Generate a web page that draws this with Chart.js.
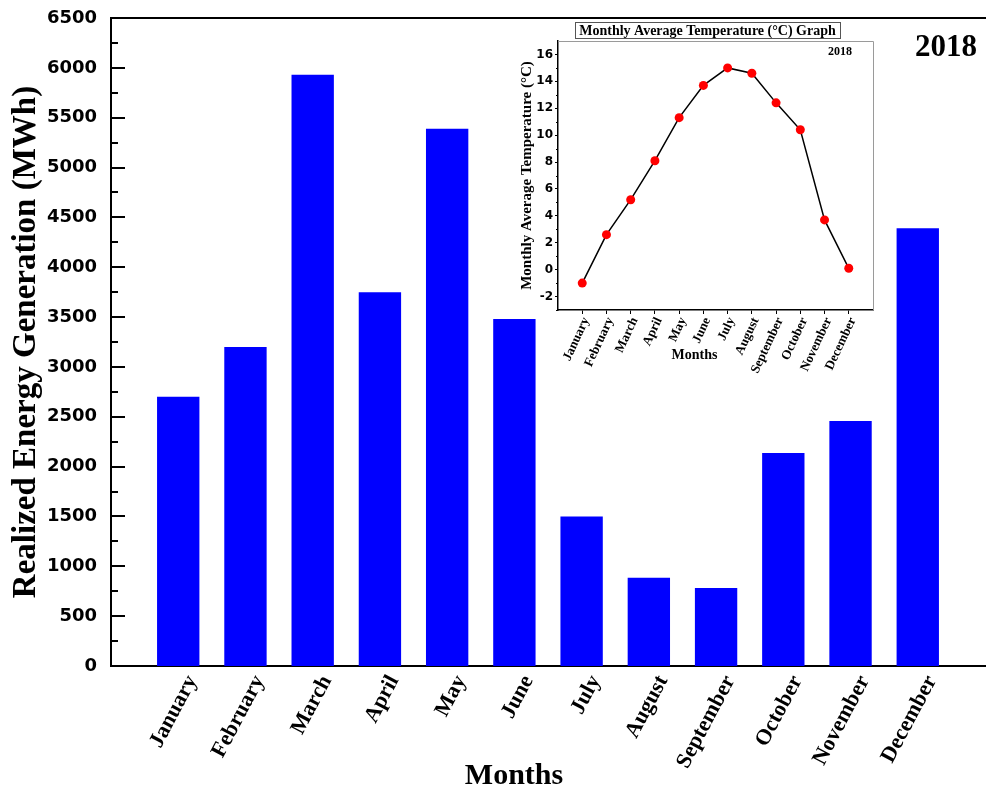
<!DOCTYPE html>
<html>
<head>
<meta charset="utf-8">
<script src="https://cdn.jsdelivr.net/npm/chart.js@4.4.0/dist/chart.umd.min.js"></script>
<style>
    html, body { margin: 0; padding: 0; background: #fff; }
    #wrap { position: relative; width: 986px; height: 794px; }
    #mainChart { position: absolute; left: 0; top: 0; }
    #insetChart { position: absolute; left: 505px; top: 15px; }
</style>
</head>
<body>
<div id="wrap">
    <canvas id="mainChart" width="986" height="794"></canvas>
    <canvas id="insetChart" width="380" height="380"></canvas>
</div>
<script>
// --- Data ---
const months = ['January', 'February', 'March', 'April', 'May', 'June',
    'July', 'August', 'September', 'October', 'November', 'December'];
const energyMWh = [2700, 3200, 5930, 3750, 5390, 3480, 1500, 885, 782, 2136, 2457, 4390];
const temperatureC = [-1.0, 2.6, 5.2, 8.1, 11.3, 13.7, 15.0, 14.6, 12.4, 10.4, 3.7, 0.1];
const energyTicks = [0, 500, 1000, 1500, 2000, 2500, 3000, 3500, 4000, 4500, 5000, 5500, 6000, 6500];
const tempTicks = [-2, 0, 2, 4, 6, 8, 10, 12, 14, 16];
const yearLabel = '2018';

const serifBold = (size) => ({ family: "'Liberation Serif', 'Times New Roman', serif", size: size, weight: 'bold', lineHeight: 1.2 });
const sansBold = (size) => ({ family: "'DejaVu Sans', Arial, sans-serif", size: size, weight: 'bold' });

// minor ticks sit halfway between the labelled ones
function midpoints(ticks) {
    const out = [];
    for (let i = 0; i < ticks.length - 1; i++) out.push((ticks[i] + ticks[i + 1]) / 2);
    return out;
}

// --- Main bar chart ---
const mainDecor = {
    id: 'mainDecor',
    afterDraw(chart) {
        const { ctx, chartArea: a, scales: { y } } = chart;
        ctx.save();
        ctx.strokeStyle = '#000';
        ctx.lineWidth = 2;
        ctx.beginPath();
        ctx.moveTo(a.left, a.top);
        ctx.lineTo(chart.width, a.top);
        ctx.stroke();

        // inward tick marks on the y axis
        ctx.beginPath();
        energyTicks.forEach(v => {
            const py = Math.round(y.getPixelForValue(v));
            ctx.moveTo(a.left, py);
            ctx.lineTo(a.left + 14, py);
        });
        midpoints(energyTicks).forEach(v => {
            const py = Math.round(y.getPixelForValue(v));
            ctx.moveTo(a.left, py);
            ctx.lineTo(a.left + 7, py);
        });
        ctx.stroke();

        ctx.fillStyle = '#000';
        ctx.textAlign = 'center';
        ctx.textBaseline = 'middle';
        ctx.font = "bold 31px 'Liberation Serif', serif";
        ctx.fillText(yearLabel, a.right - 39, a.top + 30);

        ctx.font = "bold 30px 'Liberation Serif', serif";
        ctx.fillText('Months', (a.left + a.right) / 2 - 34, chart.height - 18);
        ctx.restore();
    }
};

new Chart(document.getElementById('mainChart'), {
    type: 'bar',
    data: {
        datasets: [{
            data: months.map((m, i) => ({ x: i, y: energyMWh[i] })),
            backgroundColor: '#0000ff',
            borderWidth: 0,
            categoryPercentage: 1,
            barPercentage: 0.63
        }]
    },
    options: {
        responsive: false,
        animation: false,
        layout: { padding: { top: 18, right: 1, left: 0, bottom: 0 } },
        plugins: { legend: { display: false }, tooltip: { enabled: false } },
        scales: {
            x: {
                type: 'linear',
                offset: false,
                min: -1,
                max: 12,
                afterBuildTicks: s => { s.ticks = months.map((m, i) => ({ value: i })); },
                afterFit: s => { s.height = 128; s.paddingLeft = 0; s.paddingRight = 0; },
                grid: { display: false, drawTicks: false, offset: false },
                border: { display: true, color: '#000', width: 2 },
                ticks: {
                    autoSkip: false,
                    minRotation: 62,
                    maxRotation: 62,
                    labelOffset: 14,
                    padding: 5,
                    color: '#000',
                    font: serifBold(22),
                    callback: v => months[v]
                }
            },
            y: {
                min: energyTicks[0],
                max: energyTicks[energyTicks.length - 1],
                afterBuildTicks: s => { s.ticks = energyTicks.map(v => ({ value: v })); },
                afterFit: s => { s.width = 111; s.paddingTop = 0; s.paddingBottom = 0; },
                grid: { display: false, drawTicks: false },
                border: { display: true, color: '#000', width: 2 },
                ticks: { padding: 14, color: '#000', font: sansBold(18), callback: v => String(v) },
                title: {
                    display: true,
                    text: 'Realized Energy Generation (MWh)',
                    color: '#000',
                    font: serifBold(33),
                    padding: { top: 7, bottom: 0 }
                }
            }
        }
    },
    plugins: [mainDecor]
});

// --- Inset temperature line chart ---
const insetDecor = {
    id: 'insetDecor',
    afterDraw(chart) {
        const { ctx, chartArea: a, scales: { y } } = chart;
        ctx.save();
        // light frame on top and right
        ctx.strokeStyle = '#9a9a9a';
        ctx.lineWidth = 1;
        ctx.beginPath();
        ctx.moveTo(a.left, a.top + 0.5);
        ctx.lineTo(a.right + 0.5, a.top + 0.5);
        ctx.lineTo(a.right + 0.5, a.bottom);
        ctx.stroke();

        // minor ticks on the y axis
        ctx.strokeStyle = '#000';
        ctx.beginPath();
        midpoints([-4].concat(tempTicks)).forEach(v => {
            if (v < y.min || v > y.max) return;
            const py = Math.round(y.getPixelForValue(v)) + 0.5;
            ctx.moveTo(a.left - 2, py);
            ctx.lineTo(a.left, py);
        });
        ctx.stroke();

        // title in a box
        ctx.fillStyle = '#000';
        ctx.textAlign = 'center';
        ctx.textBaseline = 'middle';
        ctx.font = "bold 14px 'Liberation Serif', serif";
        const title = 'Monthly Average Temperature (°C) Graph';
        const cx = (a.left + a.right) / 2 - 8;
        const cy = a.top - 10;
        const w = ctx.measureText(title).width + 8;
        ctx.fillText(title, cx, cy);
        ctx.strokeStyle = '#555';
        ctx.strokeRect(Math.round(cx - w / 2) + 0.5, cy - 8.5, Math.round(w), 16);

        ctx.font = "bold 12px 'Liberation Serif', serif";
        ctx.fillText(yearLabel, a.right - 33, a.top + 11);

        ctx.font = "bold 14px 'Liberation Serif', serif";
        ctx.fillText('Months', (a.left + a.right) / 2 - 21, a.bottom + 45);
        ctx.restore();
    }
};

new Chart(document.getElementById('insetChart'), {
    type: 'line',
    data: {
        datasets: [{
            data: months.map((m, i) => ({ x: i, y: temperatureC[i] })),
            borderColor: '#000',
            borderWidth: 1.5,
            pointRadius: 4.5,
            pointBackgroundColor: '#ff0000',
            pointBorderColor: '#ff0000',
            pointBorderWidth: 0,
            tension: 0
        }]
    },
    options: {
        responsive: false,
        animation: false,
        layout: { padding: { top: 26, right: 12, left: 0, bottom: 0 } },
        plugins: { legend: { display: false }, tooltip: { enabled: false } },
        scales: {
            x: {
                type: 'linear',
                min: -1,
                max: 12,
                afterBuildTicks: s => { s.ticks = months.map((m, i) => ({ value: i })); },
                afterFit: s => { s.height = 85; },
                grid: { display: true, drawOnChartArea: false, tickLength: 4, color: '#000' },
                border: { display: true, color: '#000', width: 1.5 },
                ticks: {
                    autoSkip: false,
                    minRotation: 65,
                    maxRotation: 65,
                    labelOffset: 4,
                    padding: 1,
                    color: '#000',
                    font: serifBold(13),
                    callback: v => months[v]
                }
            },
            y: {
                min: -3,
                max: 17,
                afterBuildTicks: s => { s.ticks = tempTicks.map(v => ({ value: v })); },
                afterFit: s => { s.width = 53; },
                grid: { display: true, drawOnChartArea: false, tickLength: 3, color: '#000' },
                border: { display: true, color: '#000', width: 1.5 },
                ticks: { padding: 2, color: '#000', font: sansBold(12) },
                title: {
                    display: true,
                    text: 'Monthly Average Temperature (°C)',
                    color: '#000',
                    font: serifBold(15),
                    padding: { top: 13, bottom: 0 }
                }
            }
        }
    },
    plugins: [insetDecor]
});
</script>
</body>
</html>
